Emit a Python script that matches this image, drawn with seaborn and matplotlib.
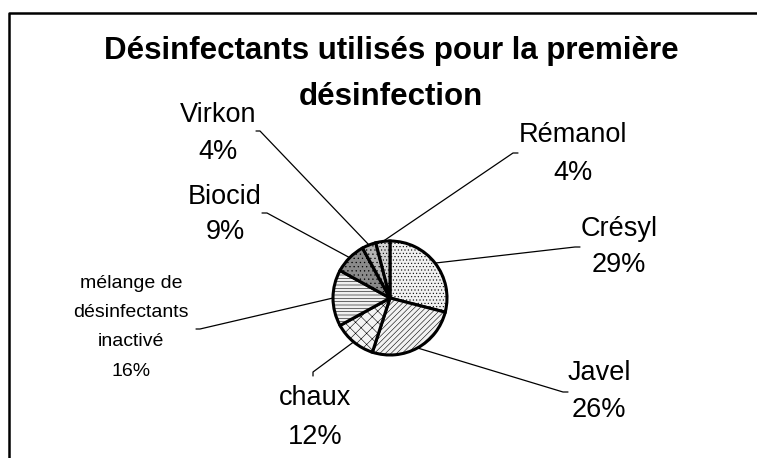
import numpy as np
import matplotlib
matplotlib.use("Agg")
import matplotlib.pyplot as plt
import seaborn as sns

# Data
labels = ['Crésyl', 'Javel', 'chaux', 'mélange de\ndésinfectants\ninactivé', 'Biocid', 'Virkon', 'Rémanol']
values = [29, 26, 12, 16, 9, 4, 4]
face_colors = ['#f0f0f0', '#f2f2f2', '#f4f4f4', '#f0f0f0', '#8a8a8a', '#b4b4b4', '#d4d4d4']
hatches = ['.....', '//////', 'xxx', '-----', '....', '....', '.....']

# Layout (pixel coordinates measured from top-left)
W, H = 757, 458
pie_center = (390, 298)
pie_radius = 57
# label text centres: (x, y of first line), line gap
label_pos = [(619, 229), (599, 373), (315, 398), (131, 283), (225, 197), (218, 115), (573, 135)]
label_gap = [36, 37, 39, 29.5, 35, 37, 38]
label_size = [19.5, 19.5, 19.5, 14, 19.5, 19.5, 19.5]
# leader line outer ends (elbow point list)
leader_ends = [
    [(575, 247), (580, 247)],
    [(563, 392), (568, 392)],
    [(313, 372), (313, 376)],
    [(200, 329), (196, 329)],
    [(267, 213), (262, 213)],
    [(260, 131), (256, 131)],
    [(513, 153), (518, 153)],
]

sns.set_style("white")
plt.rcParams['font.family'] = ['Liberation Sans', 'DejaVu Sans']
plt.rcParams['text.color'] = 'black'
plt.rcParams['hatch.linewidth'] = 0.4
plt.rcParams['hatch.color'] = '#808080'

fig = plt.figure(figsize=(W / 100, H / 100), dpi=100)
ax = fig.add_axes([0, 0, 1, 1])


def fy(y):
    return H - y


wedges, _ = ax.pie(values, startangle=90, counterclock=False,
                   center=(pie_center[0], fy(pie_center[1])), radius=pie_radius,
                   colors=face_colors, hatch=hatches,
                   wedgeprops=dict(edgecolor='black', linewidth=2.2))
ax.set_xlim(0, W)
ax.set_ylim(0, H)
ax.set_aspect('equal')
ax.axis('off')

for w, lab, val, pos, gap, fs, ends in zip(wedges, labels, values, label_pos,
                                           label_gap, label_size, leader_ends):
    theta = np.deg2rad((w.theta1 + w.theta2) / 2)
    px = pie_center[0] + pie_radius * np.cos(theta)
    py = fy(pie_center[1]) + pie_radius * np.sin(theta)
    xs = [px] + [e[0] for e in ends]
    ys = [py] + [fy(e[1]) for e in ends]
    ax.plot(xs, ys, color='black', lw=0.9, zorder=0)
    lines = lab.split('\n') + [f'{val}%']
    for i, line in enumerate(lines):
        ax.text(pos[0], fy(pos[1] + i * gap), line, ha='center', va='center',
                fontsize=fs, color='black')

# title
ax.text(391, fy(51), 'Désinfectants utilisés pour la première', ha='center', va='center',
        fontsize=22.5, fontweight='bold', color='black')
ax.text(391, fy(97), 'désinfection', ha='center', va='center',
        fontsize=22.5, fontweight='bold', color='black')

# chart frame (cropped on right and bottom)
ax.plot([9, 9, W + 5], [fy(H + 5), fy(13), fy(13)], color='black', lw=1.8, clip_on=False)

fig.savefig('out.png', dpi=100)
